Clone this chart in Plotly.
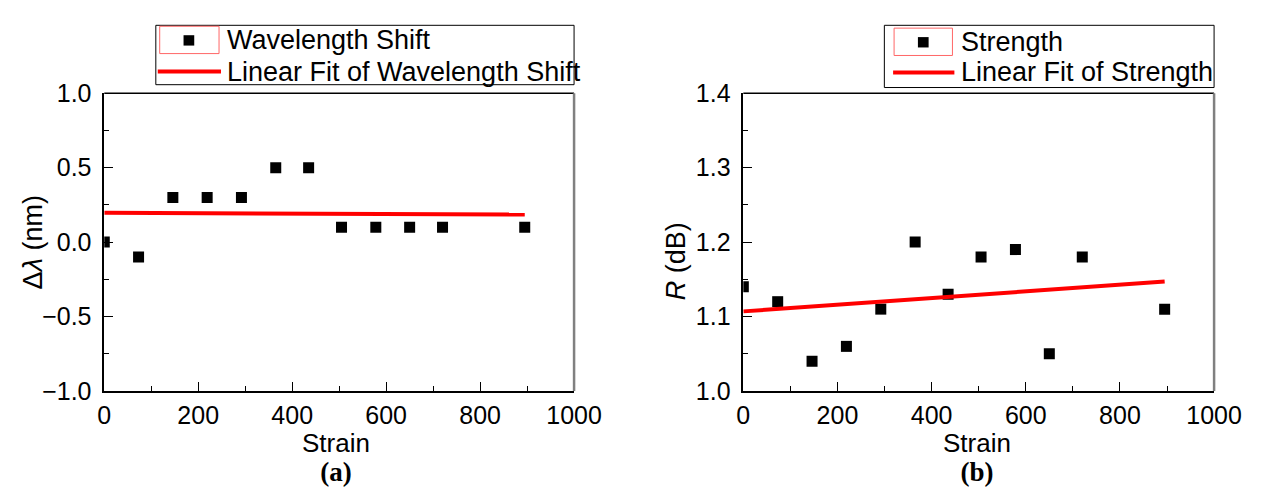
import plotly.graph_objects as go

# ---- data ----
strain = [0, 73, 146, 219, 292, 365, 435, 505, 578, 650, 720, 895]
wavelength_shift = [0.0, -0.1, 0.3, 0.3, 0.3, 0.5, 0.5, 0.1, 0.1, 0.1, 0.1, 0.1]
strength = [1.14, 1.12, 1.04, 1.06, 1.11, 1.20, 1.13, 1.18, 1.19, 1.05, 1.18, 1.11]
fit_x = [0, 895]
fit_shift = [0.197, 0.185]
fit_strength = [1.107, 1.147]

names_a = ["Wavelength Shift", "Linear Fit of Wavelength Shift"]
names_b = ["Strength", "Linear Fit of Strength"]

W, H = 1281, 488
FONT = "Liberation Sans, Arial, sans-serif"
SERIF = "Liberation Serif, Times New Roman, serif"

def px(v):
    return v / W

def py(v):
    return 1 - v / H

fig = go.Figure()

fig.add_trace(go.Scatter(x=strain, y=wavelength_shift, mode="markers", name=names_a[0],
                         marker=dict(symbol="square", size=11, color="black"),
                         xaxis="x", yaxis="y", showlegend=False))
fig.add_trace(go.Scatter(x=fit_x, y=fit_shift, mode="lines", name=names_a[1],
                         line=dict(color="red", width=4),
                         xaxis="x", yaxis="y", showlegend=False))
fig.add_trace(go.Scatter(x=strain, y=strength, mode="markers", name=names_b[0],
                         marker=dict(symbol="square", size=11, color="black"),
                         xaxis="x2", yaxis="y2", showlegend=False))
fig.add_trace(go.Scatter(x=fit_x, y=fit_strength, mode="lines", name=names_b[1],
                         line=dict(color="red", width=4),
                         xaxis="x2", yaxis="y2", showlegend=False))

ydom = [py(400), py(84)]
common_x = dict(range=[0, 1000], dtick=200, tick0=0, ticks="inside", ticklen=9, tickwidth=1,
                tickcolor="black", showline=True, linecolor="black", linewidth=1.5,
                mirror=False, showgrid=False, zeroline=False,
                tickfont=dict(family=FONT, size=25, color="black"),
                minor=dict(dtick=100, ticks="inside", ticklen=5, tickcolor="black", tickwidth=1),
                ticklabelstandoff=1)
common_y = dict(ticks="inside", ticklen=9, tickwidth=1, tickcolor="black", showline=True,
                linecolor="black", linewidth=1.5, mirror=False, showgrid=False, zeroline=False,
                tickfont=dict(family=FONT, size=25, color="black"), ticklabelstandoff=6)

fig.update_layout(
    width=W, height=H,
    margin=dict(l=0, r=0, t=0, b=0),
    paper_bgcolor="white", plot_bgcolor="white",
    showlegend=False,
    xaxis=dict(domain=[px(100), px(583)], anchor="y", **common_x),
    yaxis=dict(domain=ydom, anchor="x", range=[-1.0, 1.0], dtick=0.5, tick0=0,
               tickformat=".1f",
               minor=dict(dtick=0.25, ticks="inside", ticklen=5, tickcolor="black", tickwidth=1),
               **common_y),
    xaxis2=dict(domain=[px(757), px(1241)], anchor="y2", **common_x),
    yaxis2=dict(domain=ydom, anchor="x2", range=[1.0, 1.4], dtick=0.1, tick0=1.0,
                tickformat=".1f",
                minor=dict(dtick=0.05, ticks="inside", ticklen=5, tickcolor="black", tickwidth=1),
                **common_y),
)

shapes = []
# frame: top black, right grey
for xr, yr in [("x domain", "y domain"), ("x2 domain", "y2 domain")]:
    shapes.append(dict(type="line", xref=xr, yref=yr, x0=0, x1=1, y0=1, y1=1,
                       line=dict(color="black", width=1.5)))
    shapes.append(dict(type="line", xref=xr, yref=yr, x0=1, x1=1, y0=0, y1=1,
                       line=dict(color="#808080", width=2.5)))

annotations = []

def legend(box, redbox, marker_c, line_x, line_y, text_x, row_y, names):
    shapes.append(dict(type="rect", xref="paper", yref="paper",
                       x0=px(box[0]), x1=px(box[1]), y0=py(box[3]), y1=py(box[2]),
                       line=dict(color="black", width=1), fillcolor="white", layer="above"))
    shapes.append(dict(type="rect", xref="paper", yref="paper",
                       x0=px(redbox[0]), x1=px(redbox[1]), y0=py(redbox[3]), y1=py(redbox[2]),
                       line=dict(color="#ff6666", width=1), layer="above"))
    shapes.append(dict(type="rect", xref="paper", yref="paper",
                       x0=px(marker_c[0] - 5.5), x1=px(marker_c[0] + 5.5),
                       y0=py(marker_c[1] + 5.5), y1=py(marker_c[1] - 5.5),
                       line=dict(width=0), fillcolor="black", layer="above"))
    shapes.append(dict(type="line", xref="paper", yref="paper",
                       x0=px(line_x[0]), x1=px(line_x[1]), y0=py(line_y), y1=py(line_y),
                       line=dict(color="red", width=4), layer="above"))
    for nm, ry in zip(names, row_y):
        annotations.append(dict(text=nm, xref="paper", yref="paper", x=px(text_x), y=py(ry),
                                xanchor="left", yanchor="middle", showarrow=False,
                                font=dict(family=FONT, size=27, color="black")))

legend((153, 583, 12, 75), (157, 218, 13, 42), (187, 28), (155, 220), 61, 224, (28, 61), names_a)
legend((902, 1241, 12, 78), (912, 972, 15, 44), (942, 30), (911, 974), 62, 979, (30, 62), names_b)

# x axis title + panel label as one two-line text block
for cx, lab in ((338, "(a)"), (997, "(b)")):
    txt = ("<span style='font-size:26px'>Strain</span><br>"
           "<span style='font-family:Liberation Serif, Times New Roman, serif;font-size:27px'><b>"
           + lab + "</b></span>")
    annotations.append(dict(text=txt, xref="paper", yref="paper", x=px(cx), y=py(471),
                            xanchor="center", yanchor="middle", showarrow=False, align="center",
                            font=dict(family=FONT, size=22, color="black")))
annotations.append(dict(text="Δ<i>λ</i> (nm)", xref="paper", yref="paper", x=px(27), y=py(242),
                        xanchor="center", yanchor="middle", showarrow=False, textangle=-90,
                        font=dict(family=FONT, size=27, color="black")))
annotations.append(dict(text="<i>R</i> (dB)", xref="paper", yref="paper", x=px(688), y=py(262),
                        xanchor="center", yanchor="middle", showarrow=False, textangle=-90,
                        font=dict(family=FONT, size=27, color="black")))

fig.update_layout(shapes=shapes, annotations=annotations)
fig.write_html("out.html")
